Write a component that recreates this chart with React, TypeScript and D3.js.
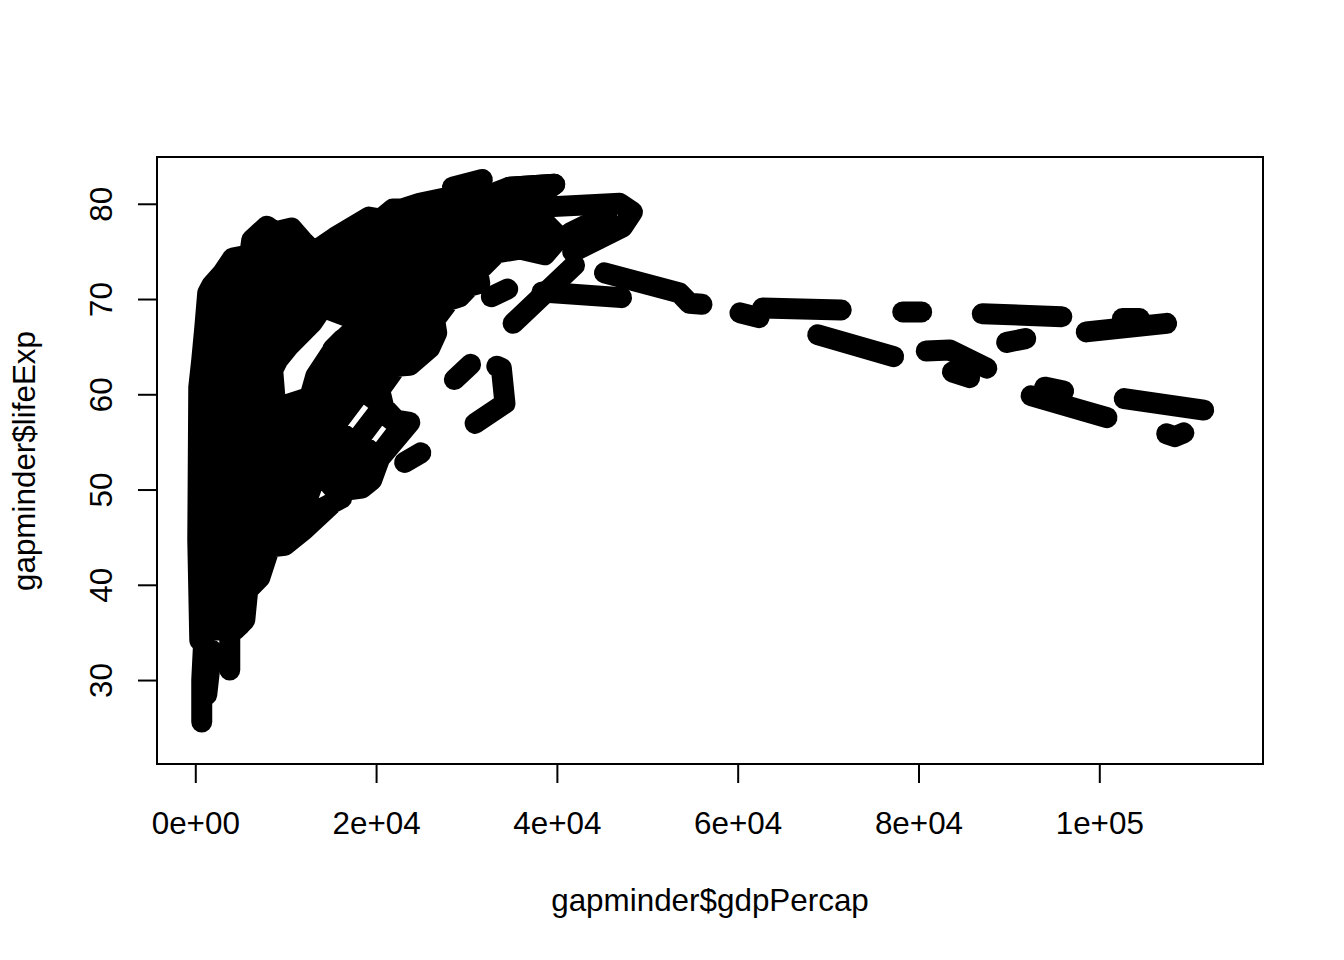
import React from "react";
import * as d3 from "d3";

const xTickValues = [0, 20000, 40000, 60000, 80000, 100000];
const xTickLabels = ["0e+00", "2e+04", "4e+04", "6e+04", "8e+04", "1e+05"];
const yTickValues = [30, 40, 50, 60, 70, 80];
const xTitle = "gapminder$gdpPercap";
const yTitle = "gapminder$lifeExp";

// dense body of the cloud (closed outline, then the gaps left inside it)
const cloudGdp = [440,220,330,660,1000,1320,1770,2980,4090,5970,6190,7850,8740,10600,11830,13050,15370,19130,20450,21790,22790,24770,27540,32510,34730,39700,36720,40260,38600,35830,33290,31190,31410,30300,29200,28090,26430,26650,25880,23670,22230,20350,20790,22120,23670,20350,19460,18360,16700,11940,9840,8180,7080,5750,5420,4310,1000];
const cloudLife = [34.25,44.75,60.8,63.65,67.1,70.7,71.5,72.8,74.36,74.7,76.25,77.7,77.1,77.5,76.15,75,76.5,78.65,78.45,79.5,79.5,80.1,80.65,81,81.8,82.1,79.9,76.5,74.7,75.3,74.9,72.9,71.7,71.4,70.3,69.95,67.85,66.5,64.9,63.1,63,60.5,58.7,57.35,57.1,53.35,51.05,50.2,50,45.8,44.2,44,40.8,39.5,36.35,35.3,35.3];
const gapGdp = [
  [8510,8850,12610,13270,15370,18360,14040,12940,10390,9070],
  [11500,13490,16150],
  [15150,16250,17800,16700],
  [15260,18360,20790,17700],
  [17800,20350,22670,20130],
];
const gapLife = [
  [62.6,58.6,59.75,61.97,65,67.64,69.2,67.64,65.2,63.65],
  [46.85,52.1,49.16],
  [64.8,65.85,64.4,63.3],
  [56.6,60.5,58.8,54.9],
  [55.25,58.4,56.6,53.45],
];

// separate line runs
const runGdp = [
  [87000,95800],[89700,91800],[98500,107400],[102500,104400],[102700,111500],
  [107400,108300,109300],[92400,100800],[93900,96000],[80800,83400,87500],[83700,85600],
  [60200,62300],[62700,71400],[68800,77200],[78200,80300],[45200,53500,54600,56000],
  [35100,41900],[38300,47100],[32700,34500],[28600,30400],[33300,33800,34200,30900],
  [38400,46900,48300,47200,41700],[41400,45500],[28400,31700],[34700,39700],[23100,24900],
  [660,660,880],[1770,1210],[3760,3760,4860],
];
const runLife = [
  [68.5,68.2],[65.5,65.9],[66.6,67.5],[68,68],[59.6,58.4],
  [55.9,55.6,56],[59.9,57.6],[60.8,60.4],[64.6,64.7,62.8],[62.4,61.8],
  [68.6,68.1],[69.1,68.9],[66.3,64],[68.7,68.7],[72.8,70.7,69.6,69.5],
  [67.5,73.6],[70.8,70.2],[70.3,71.1],[61.6,63.2],[63,62.8,59.1,57],
  [79.7,80.1,79.2,77.6,75],[77,78.9],[81.8,82.6],[81.8,82.1],[52.9,53.9],
  [25.65,30.05,34.25],[33.2,28.5],[31.1,35.8,35.8],
];

const W = 1344, H = 960;
const box = { l: 157, r: 1263, t: 157, b: 764 };
const x = d3.scaleLinear().domain([-4290, 118054]).range([box.l, box.r]);
const y = d3.scaleLinear().domain([21.239, 84.963]).range([box.b, box.t]);
const line = d3.line<[number, number]>().x((d) => x(d[0])).y((d) => y(d[1]));
const zipRun = (g: number[], l: number[]) => g.map((v, i) => [v, l[i]] as [number, number]);

const cloudPath =
  line(zipRun(cloudGdp, cloudLife)) + "Z" +
  gapGdp.map((g, i) => line(zipRun(g, gapLife[i])) + "Z").join("");

const font = "'Liberation Sans', Arial, sans-serif";
const FS = 31.4;
const LW = 21;

export default function App() {
  return (
    <svg width={W} height={H} viewBox={`0 0 ${W} ${H}`}
      style={{ position: "absolute", left: 0, top: 0, background: "#fff" }} fontFamily={font} fontSize={FS}>
      <path d={cloudPath} fill="#000" fillRule="evenodd" stroke="#000" strokeWidth={LW} strokeLinejoin="round" />
      {runGdp.map((g, i) => (
        <path key={i} d={line(zipRun(g, runLife[i])) ?? ""} fill="none" stroke="#000" strokeWidth={LW}
          strokeLinecap="round" strokeLinejoin="round" />
      ))}
      <rect x={box.l} y={box.t} width={box.r - box.l} height={box.b - box.t} fill="none" stroke="#000" strokeWidth={2} />
      {xTickValues.map((v, i) => (
        <g key={v}>
          <line x1={x(v)} x2={x(v)} y1={box.b} y2={783} stroke="#000" strokeWidth={2} />
          <text x={x(v)} y={834} textAnchor="middle">{xTickLabels[i]}</text>
        </g>
      ))}
      {yTickValues.map((v) => (
        <g key={v}>
          <line x1={box.l} x2={138} y1={y(v)} y2={y(v)} stroke="#000" strokeWidth={2} />
          <text transform={`translate(112,${y(v)}) rotate(-90)`} textAnchor="middle">{v}</text>
        </g>
      ))}
      <text x={710} y={911} textAnchor="middle">{xTitle}</text>
      <text transform={`translate(35,461) rotate(-90)`} textAnchor="middle">{yTitle}</text>
    </svg>
  );
}
